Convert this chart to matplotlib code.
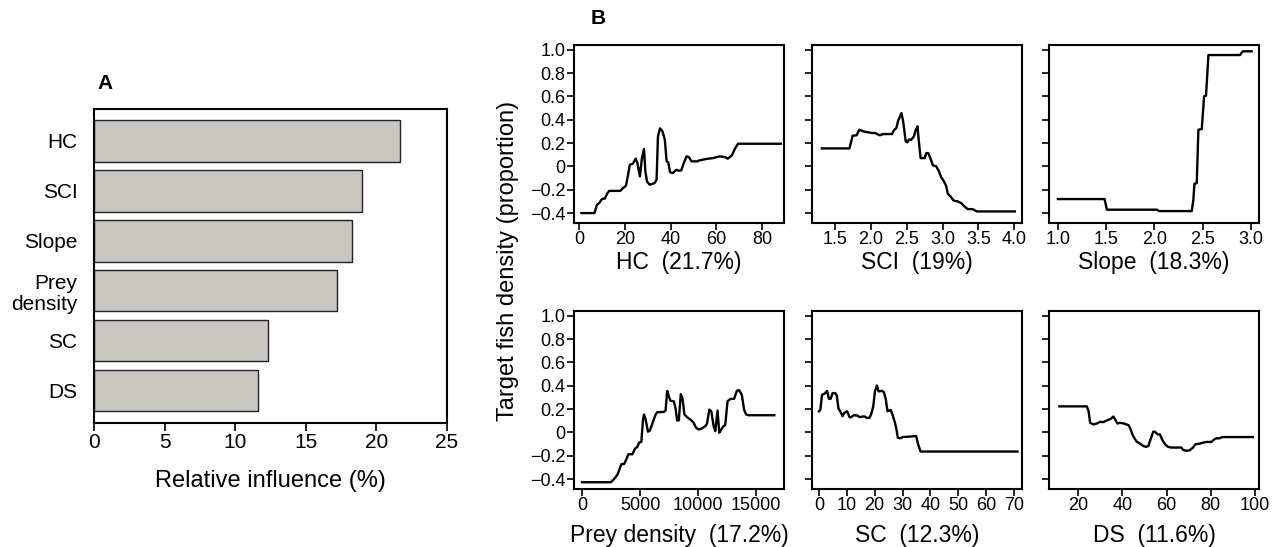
import numpy as np
import matplotlib
matplotlib.use('Agg')
import matplotlib.pyplot as plt

plt.rcParams['font.family'] = ['Liberation Sans', 'DejaVu Sans']

# Panel A: relative influence
predictors = ['HC', 'SCI', 'Slope', 'Prey\ndensity', 'SC', 'DS']
influence = [21.7, 19.0, 18.3, 17.2, 12.3, 11.6]

# Panel B: partial dependence curves
hc_x = [1.05, 6.75, 7.8, 9.0, 10.0, 11.3, 12.3, 13.2, 18.0, 19.2, 20.5, 21.3, 22.2, 23.5,
        24.8, 25.5, 26.6, 27.5, 28.4, 29.0, 29.7, 30.9, 33.0, 33.9, 34.5, 35.4, 36.5, 37.5,
        38.3, 39.0, 39.8, 41.0, 42.5, 43.5, 44.7, 45.8, 47.0, 48.0, 49.2, 51.8, 52.5, 55.5,
        58.5, 61.5, 63.8, 65.0, 66.8, 68.3, 69.5, 79.5, 88.2]
hc_y = [-0.40, -0.40, -0.33, -0.31, -0.28, -0.275, -0.234, -0.21, -0.21, -0.186, -0.166,
        -0.086, 0.014, 0.023, 0.066, 0.029, -0.086, 0.071, 0.149, -0.043, -0.129, -0.157,
        -0.143, -0.114, 0.257, 0.326, 0.30, 0.229, 0.043, 0.034, -0.051, -0.057, -0.029,
        -0.037, -0.034, 0.029, 0.086, 0.08, 0.043, 0.043, 0.051, 0.063, 0.071, 0.086, 0.08,
        0.066, 0.094, 0.157, 0.194, 0.194, 0.194]

sci_x = [1.315, 1.70, 1.745, 1.80, 1.838, 1.87, 1.894, 2.01, 2.056, 2.125, 2.17, 2.264,
         2.296, 2.32, 2.356, 2.38, 2.426, 2.45, 2.486, 2.51, 2.528, 2.565, 2.60, 2.625,
         2.65, 2.667, 2.694, 2.75, 2.773, 2.80, 2.83, 2.866, 2.912, 2.95, 2.98, 3.02, 3.05,
         3.074, 3.11, 3.157, 3.213, 3.26, 3.306, 3.352, 3.42, 3.48, 3.745, 4.01]
sci_y = [0.154, 0.154, 0.263, 0.266, 0.314, 0.306, 0.30, 0.286, 0.286, 0.266, 0.277, 0.277,
         0.277, 0.309, 0.329, 0.391, 0.457, 0.386, 0.214, 0.206, 0.229, 0.229, 0.257, 0.309,
         0.343, 0.229, 0.071, 0.071, 0.114, 0.114, 0.071, 0.009, 0.0, -0.043, -0.091, -0.129,
         -0.166, -0.234, -0.257, -0.294, -0.30, -0.314, -0.343, -0.366, -0.366, -0.386,
         -0.386, -0.386]

slope_x = [1.0, 1.483, 1.507, 2.024, 2.048, 2.386, 2.403, 2.414, 2.438, 2.455, 2.49, 2.514,
           2.534, 2.559, 2.886, 2.914, 3.007]
slope_y = [-0.28, -0.28, -0.371, -0.371, -0.383, -0.383, -0.286, -0.149, -0.143, 0.314,
           0.32, 0.60, 0.606, 0.954, 0.954, 0.986, 0.986]

prey_x = [0, 2486, 2771, 3057, 3286, 3400, 3629, 3829, 4000, 4343, 4571, 4771, 4914, 5114,
          5257, 5343, 5486, 5686, 5857, 6114, 6343, 6486, 7057, 7200, 7343, 7486, 7629,
          7914, 8057, 8200, 8343, 8514, 8657, 8829, 9057, 9400, 9629, 9829, 10057, 10343,
          10629, 10771, 10971, 11143, 11343, 11486, 11686, 11829, 12000, 12200, 12343,
          12543, 12771, 13114, 13343, 13543, 13771, 13971, 14143, 14343, 16571]
prey_y = [-0.427, -0.427, -0.399, -0.362, -0.30, -0.271, -0.271, -0.229, -0.187, -0.187,
          -0.139, -0.124, -0.088, -0.082, 0.11, 0.153, 0.11, 0.006, 0.017, 0.09, 0.153,
          0.173, 0.175, 0.187, 0.356, 0.308, 0.271, 0.266, 0.209, 0.102, 0.102, 0.328,
          0.294, 0.153, 0.13, 0.105, 0.082, 0.04, 0.025, 0.034, 0.054, 0.074, 0.195, 0.181,
          0.054, 0.011, 0.187, -0.003, 0.025, 0.054, 0.062, 0.266, 0.286, 0.288, 0.356,
          0.362, 0.322, 0.195, 0.153, 0.147, 0.147]

sc_x = [0.0, 0.5, 1.1, 1.7, 2.3, 2.9, 3.6, 4.2, 4.9, 5.8, 6.4, 7.0, 7.6, 8.5, 9.1, 10.1,
        11.0, 11.5, 12.5, 13.8, 14.7, 15.6, 16.5, 17.1, 18.1, 18.7, 19.5, 20.1, 20.8, 21.4,
        22.6, 23.3, 23.96, 24.6, 25.2, 25.8, 26.4, 27.3, 27.9, 28.3, 29.1, 30.1, 32.2,
        34.9, 35.6, 36.5, 50.6, 71.3]
sc_y = [0.181, 0.195, 0.322, 0.328, 0.337, 0.356, 0.286, 0.288, 0.337, 0.337, 0.317, 0.204,
        0.181, 0.139, 0.167, 0.181, 0.13, 0.13, 0.147, 0.144, 0.13, 0.136, 0.136, 0.124,
        0.124, 0.153, 0.223, 0.351, 0.402, 0.351, 0.356, 0.345, 0.288, 0.181, 0.187, 0.19,
        0.153, 0.082, 0.017, -0.045, -0.051, -0.04, -0.037, -0.031, -0.102, -0.164, -0.164,
        -0.164]

ds_x = [11.6, 24.0, 24.8, 25.5, 27.0, 28.5, 30.0, 31.5, 33.0, 34.8, 36.0, 36.8, 37.8, 39.0,
        40.8, 42.8, 43.5, 44.7, 45.8, 46.5, 48.0, 49.5, 50.7, 51.8, 52.8, 54.0, 54.8, 56.0,
        57.0, 58.2, 59.6, 60.7, 62.2, 64.5, 66.7, 67.5, 69.0, 70.5, 72.0, 73.0, 75.0, 76.5,
        78.0, 80.2, 81.7, 82.5, 84.0, 85.2, 90.0, 99.0]
ds_y = [0.223, 0.223, 0.181, 0.082, 0.068, 0.076, 0.09, 0.088, 0.102, 0.116, 0.136, 0.11,
        0.076, 0.082, 0.076, 0.062, 0.04, -0.023, -0.059, -0.079, -0.096, -0.116, -0.124,
        -0.116, -0.059, 0.006, 0.006, -0.017, -0.017, -0.068, -0.107, -0.124, -0.13, -0.13,
        -0.13, -0.15, -0.158, -0.153, -0.13, -0.102, -0.096, -0.088, -0.082, -0.082, -0.059,
        -0.051, -0.051, -0.04, -0.04, -0.04]

y_ticks = [-0.4, -0.2, 0, 0.2, 0.4, 0.6, 0.8, 1.0]
y_tick_labels = ['\u22120.4', '\u22120.2', '0', '0.2', '0.4', '0.6', '0.8', '1.0']

panels = [
    (hc_x, hc_y, 'HC  (21.7%)', [0, 20, 40, 60, 80], ['0', '20', '40', '60', '80'], (-2.2, 89.6)),
    (sci_x, sci_y, 'SCI  (19%)', [1.5, 2.0, 2.5, 3.0, 3.5, 4.0],
     ['1.5', '2.0', '2.5', '3.0', '3.5', '4.0'], (1.177, 4.11)),
    (slope_x, slope_y, 'Slope  (18.3%)', [1.0, 1.5, 2.0, 2.5, 3.0],
     ['1.0', '1.5', '2.0', '2.5', '3.0'], (0.907, 3.083)),
    (prey_x, prey_y, 'Prey density  (17.2%)', [0, 5000, 10000, 15000],
     ['0', '5000', '10000', '15000'], (-690, 17410)),
    (sc_x, sc_y, 'SC  (12.3%)', [0, 10, 20, 30, 40, 50, 60, 70],
     ['0', '10', '20', '30', '40', '50', '60', '70'], (-2.5, 72.9)),
    (ds_x, ds_y, 'DS  (11.6%)', [20, 40, 60, 80, 100],
     ['20', '40', '60', '80', '100'], (6.9, 101.8)),
]

W, H = 1283, 547
fig = plt.figure(figsize=(W / 100, H / 100), dpi=100)


def px_axes(left, top, right, bottom):
    return fig.add_axes([left / W, 1 - bottom / H, (right - left) / W, (bottom - top) / H])


# ---- Panel A ----
axA = px_axes(94, 109, 447, 423)
pos = np.arange(len(predictors))
axA.barh(pos, influence, height=0.83, color='#c9c5c1', edgecolor='#222222', linewidth=1.0)
axA.set_ylim(len(predictors) - 0.35, -0.64)
axA.set_xlim(0, 25)
axA.set_xticks([0, 5, 10, 15, 20, 25])
axA.set_yticks(pos)
axA.set_yticklabels(predictors, fontsize=15, linespacing=1.15, ha='right')
axA.tick_params(axis='y', length=0, pad=12)
axA.tick_params(axis='x', direction='out', length=6, width=1.2, labelsize=15, pad=1)
axA.set_xlabel('Relative influence (%)', fontsize=17, labelpad=13)
for sp in axA.spines.values():
    sp.set_linewidth(1.5)
fig.text(97 / W, 1 - 83 / H, 'A', fontsize=15, fontweight='bold', ha='left', va='center')

# ---- Panel B ----
lefts = [574, 812, 1049]
rows = [(45, 223), (311, 489)]
label_pads = [2, 7]
for i, (xs, ys, lab, xt, xtl, xl) in enumerate(panels):
    r, c = divmod(i, 3)
    top, bottom = rows[r]
    ax = px_axes(lefts[c], top, lefts[c] + 210, bottom)
    ax.plot(xs, ys, color='black', linewidth=1.7)
    ax.set_xlim(*xl)
    ax.set_ylim(-0.485, 1.04)
    ax.set_xticks(xt)
    ax.set_xticklabels(xtl)
    ax.set_yticks(y_ticks)
    if c == 0:
        ax.set_yticklabels(y_tick_labels)
    else:
        ax.set_yticklabels([])
    ax.tick_params(direction='out', length=5, width=1.2, labelsize=13, pad=1)
    ax.set_xlabel(lab, fontsize=16.5, labelpad=label_pads[r])
    for sp in ax.spines.values():
        sp.set_linewidth(1.5)

fig.text(508 / W, 1 - 261 / H, 'Target fish density (proportion)', fontsize=17,
         rotation=90, ha='center', va='center')
fig.text(598 / W, 1 - 18 / H, 'B', fontsize=15, fontweight='bold', ha='center', va='center')

fig.savefig('out.png', dpi=100)
